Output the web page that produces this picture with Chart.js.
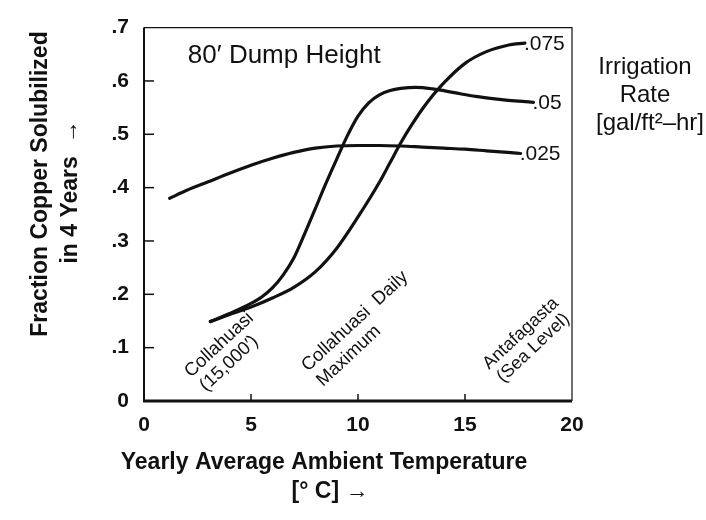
<!DOCTYPE html>
<html><head><meta charset="utf-8">
<script src="https://cdn.jsdelivr.net/npm/chart.js@4/dist/chart.umd.min.js"></script>
<style>html,body{margin:0;padding:0;background:#fff}</style>
</head><body>
<canvas id="c" width="706" height="520"></canvas>
<script>
// Yearly average ambient temperature [°C] for each curve point, and fraction of copper solubilized
const rate025X = [1.2, 2, 3, 4, 5, 6, 7, 8, 9, 10, 11, 12, 13, 14, 15, 16, 17, 17.6];
const rate025Y = [0.380, 0.395, 0.411, 0.427, 0.442, 0.455, 0.466, 0.474, 0.478, 0.479, 0.479, 0.478, 0.476, 0.474, 0.472, 0.469, 0.466, 0.464];
const rate05X = [3.1, 4, 5, 5.5, 6, 6.5, 7, 7.5, 8, 8.5, 9, 9.5, 10, 10.5, 11, 11.5, 12, 12.7, 13.5, 14.5, 15.5, 16.5, 17.5, 18.2];
const rate05Y = [0.149, 0.164, 0.183, 0.195, 0.212, 0.236, 0.268, 0.313, 0.360, 0.408, 0.453, 0.497, 0.534, 0.559, 0.574, 0.582, 0.586, 0.588, 0.585, 0.578, 0.571, 0.566, 0.562, 0.560];
const rate075X = [3.1, 4, 5, 6, 7, 8, 9, 10, 11, 11.5, 12, 12.5, 13, 13.5, 14, 15, 16, 17, 17.8];
const rate075Y = [0.149, 0.162, 0.176, 0.193, 0.213, 0.242, 0.286, 0.345, 0.410, 0.447, 0.484, 0.517, 0.547, 0.573, 0.596, 0.633, 0.655, 0.667, 0.671];
const seriesNames = ['.025', '.05', '.075'];
const xTickValues = [0, 5, 10, 15, 20];
const yTickValues = [0, 0.1, 0.2, 0.3, 0.4, 0.5, 0.6, 0.7];
const yTickLabels = ['0', '.1', '.2', '.3', '.4', '.5', '.6', '.7'];
const siteNames = [['Collahuasi', '(15,000′)'], ['Collahuasi  Daily', 'Maximum'], ['Antafagasta', '(Sea Level)']];

function pts(xs, ys) { return xs.map((x, i) => ({ x: x, y: ys[i] })); }

const FONT = '"Liberation Sans", Arial, Helvetica, sans-serif';

const decorPlugin = {
  id: 'decor',
  afterDraw(chart) {
    const ctx = chart.ctx, ca = chart.chartArea;
    const xs = chart.scales.x, ys = chart.scales.y;
    ctx.save();
    // frame
    ctx.strokeStyle = '#111';
    ctx.lineWidth = 1.2;
    ctx.beginPath();
    ctx.moveTo(ca.left, ca.top); ctx.lineTo(ca.right, ca.top); ctx.lineTo(ca.right, ca.bottom);
    ctx.stroke();
    ctx.lineWidth = 2;
    ctx.beginPath(); ctx.moveTo(ca.left, ca.top); ctx.lineTo(ca.left, ca.bottom); ctx.stroke();
    ctx.lineWidth = 3;
    ctx.beginPath(); ctx.moveTo(ca.left - 1, ca.bottom); ctx.lineTo(ca.right, ca.bottom); ctx.stroke();
    // inner tick marks
    ctx.lineWidth = 1.5;
    yTickValues.forEach(v => {
      if (v <= 0 || v >= 0.7) return;
      const py = ys.getPixelForValue(v);
      ctx.beginPath(); ctx.moveTo(ca.left, py); ctx.lineTo(ca.left + 10, py); ctx.stroke();
    });
    xTickValues.forEach(v => {
      if (v <= 0 || v >= 20) return;
      const px = xs.getPixelForValue(v);
      ctx.beginPath(); ctx.moveTo(px, ca.bottom); ctx.lineTo(px, ca.bottom - 7); ctx.stroke();
    });

    ctx.fillStyle = '#111';
    // in-plot title
    ctx.font = '26px ' + FONT;
    ctx.textAlign = 'left'; ctx.textBaseline = 'middle';
    ctx.fillText('80′ Dump Height', xs.getPixelForValue(2.05), ys.getPixelForValue(0.647));

    // series end labels
    ctx.font = '21px ' + FONT;
    const ends = [[rate025X, rate025Y], [rate05X, rate05Y], [rate075X, rate075Y]];
    ends.forEach((s, i) => {
      const n = s[0].length - 1;
      const px = xs.getPixelForValue(s[0][n]);
      const py = ys.getPixelForValue(s[1][n]);
      ctx.fillText(seriesNames[i], px - 1, py + 1);
    });

    // label on the right
    ctx.font = '24px ' + FONT;
    ctx.textAlign = 'center';
    ctx.fillText('Irrigation', 645, 67);
    ctx.fillText('Rate', 645, 95);
    ctx.fillText('[gal/ft²–hr]', 650, 123);

    // site labels (rotated, left aligned on baseline)
    const pos = [[[191, 378], [206, 392]], [[308, 372], [323, 387]], [[489, 370], [503, 383]]];
    const sizes = [18.5, 18.5, 18];
    siteNames.forEach((lines, i) => {
      ctx.font = sizes[i] + 'px ' + FONT;
      lines.forEach((t, j) => {
        ctx.save();
        ctx.translate(pos[i][j][0], pos[i][j][1]);
        ctx.rotate(-43 * Math.PI / 180);
        ctx.textAlign = 'left'; ctx.textBaseline = 'alphabetic';
        ctx.fillText(t, 0, 0);
        ctx.restore();
      });
    });

    // axis titles
    ctx.font = 'bold 23px ' + FONT;
    ctx.textAlign = 'center'; ctx.textBaseline = 'middle';
    ctx.fillText('Yearly Average Ambient Temperature', 324, 463);
    ctx.fillText('[° C] →', 330, 492);
    ctx.save();
    ctx.translate(41, 184);
    ctx.rotate(-Math.PI / 2);
    ctx.fillText('Fraction Copper Solubilized', 0, 0);
    ctx.restore();
    ctx.save();
    ctx.translate(71, 192);
    ctx.rotate(-Math.PI / 2);
    ctx.fillText('in 4 Years  →', 0, 0);
    ctx.restore();
    ctx.restore();
  }
};

new Chart(document.getElementById('c'), {
  type: 'scatter',
  data: {
    datasets: [
      { label: seriesNames[0], data: pts(rate025X, rate025Y) },
      { label: seriesNames[1], data: pts(rate05X, rate05Y) },
      { label: seriesNames[2], data: pts(rate075X, rate075Y) }
    ].map(d => Object.assign(d, {
      showLine: true, borderColor: '#111', backgroundColor: '#111', borderWidth: 3.2,
      pointRadius: 0, cubicInterpolationMode: 'monotone', borderCapStyle: 'round', clip: false
    }))
  },
  options: {
    responsive: false, animation: false, devicePixelRatio: 1,
    layout: { padding: { left: 0, top: 23, right: 134, bottom: 0 } },
    plugins: { legend: { display: false }, tooltip: { enabled: false } },
    scales: {
      x: {
        type: 'linear', min: 0, max: 20,
        afterFit: s => { s.height = 119; },
        afterBuildTicks: s => { s.ticks = xTickValues.map(v => ({ value: v })); },
        grid: { display: false, drawTicks: false }, border: { display: false },
        ticks: { color: '#111', padding: 12, font: { family: FONT, size: 21, weight: 'bold' }, maxRotation: 0 }
      },
      y: {
        type: 'linear', min: 0, max: 0.7,
        afterFit: s => { s.width = 144; },
        afterBuildTicks: s => { s.ticks = yTickValues.map(v => ({ value: v })); },
        grid: { display: false, drawTicks: false }, border: { display: false },
        ticks: { color: '#111', padding: 15, font: { family: FONT, size: 21, weight: 'bold' },
          callback: (v) => { const i = yTickValues.findIndex(t => Math.abs(t - v) < 1e-9); return i >= 0 ? yTickLabels[i] : ''; } }
      }
    }
  },
  plugins: [decorPlugin]
});
</script>
</body></html>
